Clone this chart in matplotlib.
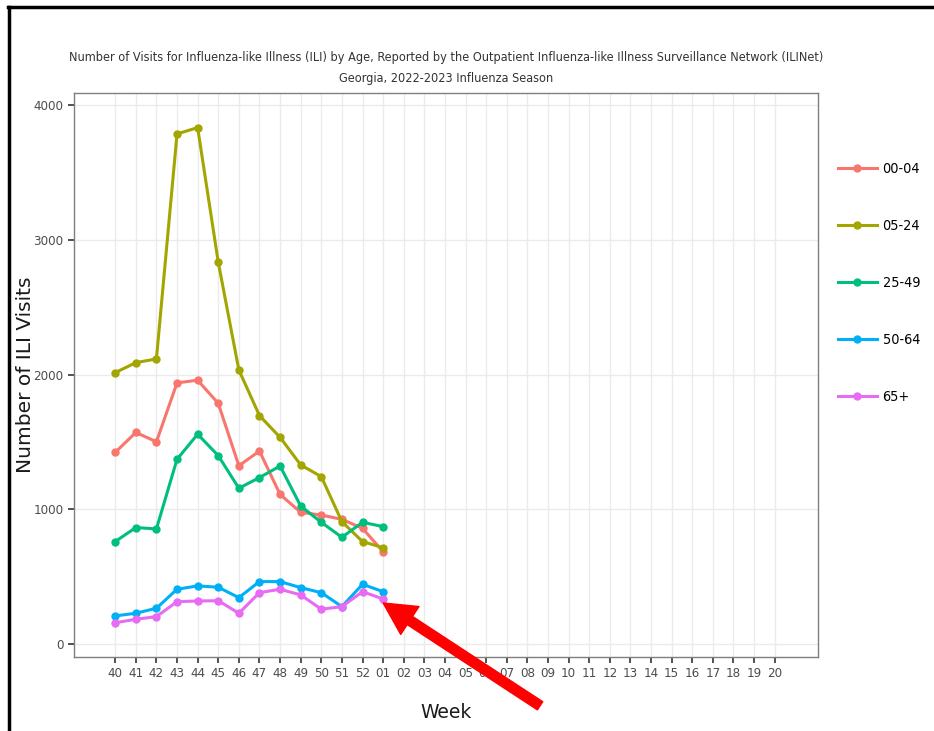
import matplotlib
matplotlib.use('Agg')
import matplotlib.pyplot as plt
from matplotlib.lines import Line2D
from matplotlib import font_manager

# weeks of the 2022-2023 season shown on the x axis
weeks = ['40', '41', '42', '43', '44', '45', '46', '47', '48', '49', '50', '51', '52',
         '01', '02', '03', '04', '05', '06', '07', '08', '09', '10', '11', '12', '13',
         '14', '15', '16', '17', '18', '19', '20']

# reported ILI visits per age group (weeks 40 .. 01)
age_groups = ['00-04', '05-24', '25-49', '50-64', '65+']
visits_00_04 = [1422, 1570, 1501, 1938, 1958, 1786, 1323, 1432, 1110, 977, 957, 925, 858, 685]
visits_05_24 = [2014, 2088, 2116, 3786, 3833, 2834, 2034, 1695, 1534, 1329, 1242, 908, 760, 715]
visits_25_49 = [760, 864, 854, 1371, 1557, 1398, 1156, 1235, 1321, 1024, 903, 792, 903, 871]
visits_50_64 = [208, 228, 265, 406, 431, 421, 344, 463, 463, 418, 381, 277, 443, 388]
visits_65_up = [158, 183, 203, 314, 319, 321, 228, 381, 406, 364, 258, 277, 388, 334]
colors = ['#F8766D', '#A3A500', '#00BF7D', '#00B0F6', '#E76BF3']

# condensed face if the system has one, else shrink plain DejaVu a bit
cond = font_manager.FontProperties(family='DejaVu Sans', stretch='condensed')
has_cond = 'ondensed' in font_manager.findfont(cond, fallback_to_default=True)
title_size = 9.1 if has_cond else 7.6
leg_size = 10.4 if has_cond else 9.4


def narrow(size):
    return font_manager.FontProperties(family='DejaVu Sans', stretch='condensed', size=size)


fig = plt.figure(figsize=(9.34, 7.31), dpi=100)
ax = fig.add_axes([0.0792, 0.1012, 0.7966, 0.7716])

series = [visits_00_04, visits_05_24, visits_25_49, visits_50_64, visits_65_up]
x = list(range(len(weeks)))
for name, vals, c in zip(age_groups, series, colors):
    ax.plot(x[:len(vals)], vals, color=c, lw=2.2, marker='o', ms=5, label=name,
            solid_joinstyle='round')

ax.set_xlim(-2, 34.1)
ax.set_ylim(-97, 4090)
ax.set_xticks(x)
ax.set_xticklabels(weeks)
ax.set_yticks([0, 1000, 2000, 3000, 4000])
ax.grid(True, color='#ebebeb', lw=1)
ax.set_axisbelow(True)
for s in ax.spines.values():
    s.set_color('#7f7f7f')
    s.set_linewidth(1)
ax.tick_params(length=4, width=1.2, color='#333333', labelcolor='#4d4d4d')
for lbl in ax.get_xticklabels() + ax.get_yticklabels():
    lbl.set_fontproperties(narrow(9.5))

ax.set_xlabel('Week', fontsize=13.5, color='#1a1a1a', labelpad=16)
ax.set_ylabel('Number of ILI Visits', fontsize=14.5, color='#1a1a1a')
ax.yaxis.set_label_coords(-0.052, 0.5)

ax.set_title('Number of Visits for Influenza-like Illness (ILI) by Age, Reported by the '
             'Outpatient Influenza-like Illness Surveillance Network (ILINet)\n'
             'Georgia, 2022-2023 Influenza Season',
             fontproperties=narrow(title_size), color='#333333', pad=8, linespacing=1.8)

handles = [Line2D([], [], color=c, lw=2.2, marker='o', ms=5) for c in colors]
fig.legend(handles, age_groups, loc='upper left', bbox_to_anchor=(0.897, 0.778),
           frameon=False, labelspacing=2.98, handlelength=2.7,
           handletextpad=0.4, borderpad=0, borderaxespad=0, prop=narrow(leg_size))

# red arrow pointing at the latest 65+ value
ax.annotate('', xy=(len(visits_65_up) - 1, visits_65_up[-1] - 30),
            xytext=(113, -74), textcoords='offset points',
            arrowprops=dict(arrowstyle='simple,head_length=2.3,head_width=2.4,tail_width=0.7',
                            mutation_scale=10, color='#ff0000', shrinkA=0, shrinkB=0))

# screenshot frame: top and left black edges
fig.add_artist(Line2D([0.009, 1], [0.991, 0.991], color='black', lw=2.5,
                      transform=fig.transFigure))
fig.add_artist(Line2D([0.0095, 0.0095], [0, 0.991], color='black', lw=2.5,
                      transform=fig.transFigure))

fig.savefig('out.png', dpi=100)
